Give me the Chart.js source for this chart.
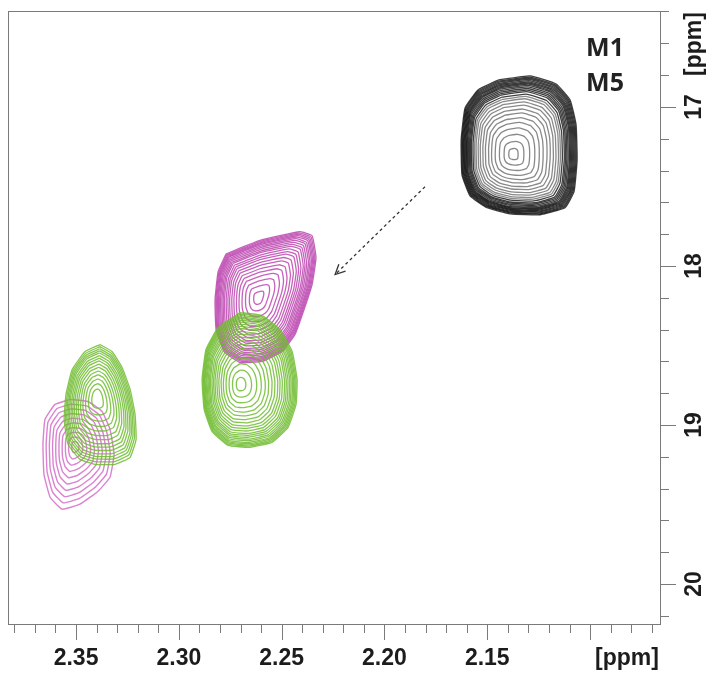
<!DOCTYPE html>
<html>
<head>
<meta charset="utf-8">
<script src="https://cdn.jsdelivr.net/npm/chart.js@4.4.1/dist/chart.umd.min.js"></script>
<style>
  html, body { margin: 0; padding: 0; background: #fff; }
  canvas { display: block; }
</style>
</head>
<body>
<canvas id="hsqc" width="712" height="674"></canvas>
<script>
// axis windows (ppm)
let xRange = [2.0655, 2.3831];
let yRange = [16.397, 20.251];
let xLabels = ['2.35', '2.30', '2.25', '2.20', '2.15'];
let yLabels = ['17', '18', '19', '20'];

// peak maxima [1H ppm, 13C ppm]
let blackCenter = [2.1375, 17.301];
let pinkCenter = [2.2615, 18.200];
let greenCenter = [2.2702, 18.745];
let greenLeftCenter = [2.3398, 18.826];
let pinkLeftCenter = [2.3505, 19.134];

// lowest contour of each peak
let blackOutline = [
    [2.1447, 16.831], [2.1292, 16.805], [2.1165, 16.856], [2.1097, 16.956],
    [2.1068, 17.113], [2.1063, 17.333], [2.1078, 17.533], [2.1122, 17.634],
    [2.1243, 17.678], [2.1389, 17.672], [2.1501, 17.634], [2.1584, 17.559],
    [2.1623, 17.427], [2.1627, 17.207], [2.1608, 17.006], [2.1545, 16.893]
];
let pinkOutline = [
    [2.2770, 17.923], [2.2595, 17.835], [2.2411, 17.785], [2.2352, 17.810],
    [2.2333, 17.948], [2.2352, 18.117], [2.2391, 18.274], [2.2435, 18.431],
    [2.2498, 18.538], [2.2595, 18.600], [2.2702, 18.607], [2.2780, 18.538],
    [2.2819, 18.400], [2.2824, 18.211], [2.2809, 18.036]
];
let greenOutline = [
    [2.2702, 18.293], [2.2595, 18.312], [2.2508, 18.400], [2.2449, 18.538],
    [2.2425, 18.713], [2.2430, 18.870], [2.2469, 19.015], [2.2547, 19.109],
    [2.2654, 19.140], [2.2761, 19.128], [2.2839, 19.040], [2.2877, 18.902],
    [2.2887, 18.713], [2.2868, 18.525], [2.2809, 18.387]
];
let greenLeftOutline = [
    [2.3383, 18.494], [2.3325, 18.538], [2.3276, 18.638], [2.3237, 18.776],
    [2.3213, 18.933], [2.3208, 19.090], [2.3237, 19.203], [2.3310, 19.247],
    [2.3408, 19.247], [2.3481, 19.216], [2.3539, 19.121], [2.3558, 18.964],
    [2.3549, 18.808], [2.3519, 18.651], [2.3456, 18.538]
];
let pinkLeftOutline = [
    [2.3529, 18.839], [2.3442, 18.852], [2.3374, 18.914], [2.3335, 19.027],
    [2.3315, 19.184], [2.3335, 19.328], [2.3393, 19.416], [2.3481, 19.498],
    [2.3568, 19.529], [2.3626, 19.454], [2.3656, 19.310], [2.3661, 19.121],
    [2.3651, 18.964], [2.3602, 18.870]
];

// contour levels, as fraction of the lowest contour size
let blackLevels = [1, 0.985, 0.97, 0.955, 0.94, 0.925, 0.91, 0.895, 0.88, 0.86, 0.84,
    0.82, 0.80, 0.77, 0.74, 0.71, 0.67, 0.63, 0.58, 0.53, 0.47, 0.41, 0.34, 0.26, 0.17, 0.08];
let pinkLevels = [1, 0.98, 0.96, 0.94, 0.92, 0.895, 0.87, 0.84, 0.81, 0.78, 0.74, 0.70,
    0.66, 0.61, 0.56, 0.50, 0.44, 0.37, 0.29, 0.20, 0.10];
let greenLevels = [1, 0.98, 0.96, 0.94, 0.92, 0.895, 0.87, 0.84, 0.81, 0.78, 0.74, 0.70,
    0.66, 0.61, 0.56, 0.50, 0.44, 0.37, 0.29, 0.20, 0.10];
let greenLeftLevels = [1, 0.96, 0.92, 0.88, 0.84, 0.79, 0.74, 0.69, 0.63, 0.57,
    0.50, 0.43, 0.35, 0.26, 0.16];
let pinkLeftLevels = [1, 0.9, 0.8, 0.7, 0.6, 0.5, 0.4, 0.3, 0.2, 0.1];

// shift arrow M1 -> M5
let arrowFrom = [2.1803, 17.502];
let arrowTo = [2.2240, 18.054];

// one closed line per contour level; inner levels may get a lighter colour
function rings(center, outline, levels, color, width, innerColor) {
    let closed = outline.concat([outline[0]]);
    return levels.map(function (f) {
        return {
            data: closed.map(function (p) {
                return { x: center[0] + f * (p[0] - center[0]), y: center[1] + f * (p[1] - center[1]) };
            }),
            showLine: true,
            borderColor: (innerColor && f < 0.75) ? innerColor : color,
            borderWidth: width,
            pointRadius: 0,
            tension: 0.12,
            fill: false
        };
    });
}

let datasets = []
    .concat(rings(greenCenter, greenOutline, greenLevels, 'rgba(112,188,48,0.85)', 1.3))
    .concat(rings(greenLeftCenter, greenLeftOutline, greenLeftLevels, 'rgba(112,188,48,0.85)', 1.3))
    .concat(rings(pinkCenter, pinkOutline, pinkLevels, 'rgba(188,70,176,0.85)', 1.3))
    .concat(rings(pinkLeftCenter, pinkLeftOutline, pinkLeftLevels, 'rgba(214,118,204,0.9)', 1.4))
    .concat(rings(blackCenter, blackOutline, blackLevels, 'rgba(0,0,0,0.75)', 1.3, 'rgba(40,40,40,0.55)'));

// frame, ticks, labels, arrow and names
let decor = {
    id: 'decor',
    afterDatasetsDraw: function (chart) {
        let ctx = chart.ctx;
        let a = chart.chartArea;
        let xs = chart.scales.x;
        let ys = chart.scales.y;
        ctx.save();

        ctx.strokeStyle = '#7a7a7a';
        ctx.lineWidth = 1;
        ctx.strokeRect(a.left + 0.5, a.top + 0.5, a.right - a.left - 1, a.bottom - a.top);

        // x ticks every 0.01, long ones every 0.05
        ctx.beginPath();
        for (let i = 207; i <= 238; i++) {
            let px = Math.round(xs.getPixelForValue(i / 100)) + 0.5;
            let len = (i % 5 === 0) ? 16 : 9;
            ctx.moveTo(px, a.bottom);
            ctx.lineTo(px, a.bottom + len);
        }
        // y ticks every 0.2, long ones on whole ppm
        for (let j = 82; j <= 101; j++) {
            let py = Math.round(ys.getPixelForValue(j / 5)) + 0.5;
            let len = (j % 5 === 0) ? 15 : 8;
            ctx.moveTo(a.right, py);
            ctx.lineTo(a.right + len, py);
        }
        ctx.stroke();

        ctx.fillStyle = '#1c1c1c';
        ctx.font = 'bold 23px "Liberation Sans", Arial, sans-serif';
        ctx.textAlign = 'center';
        ctx.textBaseline = 'middle';
        xLabels.forEach(function (t) {
            ctx.fillText(t, xs.getPixelForValue(parseFloat(t)), 659);
        });
        ctx.fillText('[ppm]', 627, 659);

        yLabels.forEach(function (t) {
            ctx.save();
            ctx.translate(695, ys.getPixelForValue(parseFloat(t)));
            ctx.rotate(-Math.PI / 2);
            ctx.fillText(t, 0, 0);
            ctx.restore();
        });
        ctx.save();
        ctx.translate(695, 44);
        ctx.rotate(-Math.PI / 2);
        ctx.fillText('[ppm]', 0, 0);
        ctx.restore();

        // dashed arrow
        let x1 = xs.getPixelForValue(arrowFrom[0]), y1 = ys.getPixelForValue(arrowFrom[1]);
        let x2 = xs.getPixelForValue(arrowTo[0]), y2 = ys.getPixelForValue(arrowTo[1]);
        ctx.strokeStyle = '#333';
        ctx.lineWidth = 1.3;
        ctx.setLineDash([3, 3]);
        ctx.beginPath();
        ctx.moveTo(x1, y1);
        ctx.lineTo(x2, y2);
        ctx.stroke();
        ctx.setLineDash([]);
        let ang = Math.atan2(y2 - y1, x2 - x1);
        ctx.beginPath();
        ctx.moveTo(x2 - 11 * Math.cos(ang - 0.45), y2 - 11 * Math.sin(ang - 0.45));
        ctx.lineTo(x2, y2);
        ctx.lineTo(x2 - 11 * Math.cos(ang + 0.45), y2 - 11 * Math.sin(ang + 0.45));
        ctx.stroke();

        ctx.fillStyle = '#222';
        ctx.font = 'bold 25px "Noto Sans", "Liberation Sans", sans-serif';
        ctx.fillText('M1', 605, 49);
        ctx.fillText('M5', 605, 84);
        ctx.restore();
    }
};

let chart = new Chart(document.getElementById('hsqc').getContext('2d'), {
    type: 'scatter',
    data: { datasets: datasets },
    options: {
        responsive: false,
        animation: false,
        layout: { padding: { left: 8, top: 11, right: 51, bottom: 50 } },
        plugins: { legend: { display: false }, tooltip: { enabled: false } },
        scales: {
            x: { type: 'linear', min: xRange[0], max: xRange[1], reverse: true, display: false },
            y: { type: 'linear', min: yRange[0], max: yRange[1], reverse: true, display: false }
        }
    },
    plugins: [decor]
});
</script>
</body>
</html>
